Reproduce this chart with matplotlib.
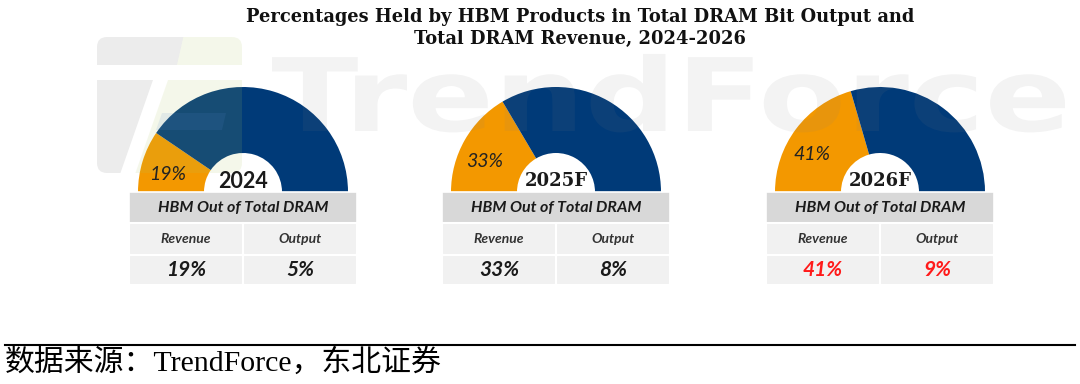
import numpy as np
import matplotlib
matplotlib.use("Agg")
import matplotlib.pyplot as plt
from matplotlib.patches import Rectangle, FancyBboxPatch, Polygon, PathPatch
from matplotlib.textpath import TextPath
from matplotlib.font_manager import FontProperties
from matplotlib.transforms import Affine2D

# ---------------- data ----------------
years = ["2024", "2025F", "2026F"]
revenue_share = [19, 33, 41]      # HBM share of DRAM revenue (%)
output_share = [5, 8, 9]          # HBM share of DRAM bit output (%)
table_header = "HBM Out of Total DRAM"
col_labels = ["Revenue", "Output"]
title_lines = ["Percentages Held by HBM Products in Total DRAM Bit Output and",
               "Total DRAM Revenue, 2024-2026"]
source_text = "数据来源：TrendForce，东北证券"
watermark = "TrendForce"

# ---------------- style / layout ----------------
W, H = 1080, 384
ORANGE = "#f39800"
NAVY = "#003a78"
HEAD_GRAY = "#d8d8d8"
CELL_GRAY = "#f1f1f1"
DARK = "#1a1a1a"
value_colors = [DARK, DARK, "#ff1a1a"]
year_fonts = [dict(family="Lato", weight="bold", size=15.5),
              dict(family="DejaVu Serif", weight="bold", size=13),
              dict(family="DejaVu Serif", weight="bold", size=13)]

centers_x = [243, 556, 880]
base_y = H - 192          # y (data, upward) of the semicircle baseline
R_OUT, R_IN = 105, 39
TBL_W = 228
row_tops = [192, 223, 255]   # pixel rows from the top
row_h = [31, 32, 30]

fig = plt.figure(figsize=(W / 100, H / 100), dpi=100)
ax = fig.add_axes([0, 0, 1, 1])

def py(p):  # pixel-from-top to data y
    return H - p

for i, yr in enumerate(years):
    cx = centers_x[i]
    rev = revenue_share[i]
    ax.pie([rev, 100 - rev, 100], colors=[ORANGE, NAVY, "none"],
           startangle=180, counterclock=False, radius=R_OUT,
           center=(cx, base_y), frame=True,
           wedgeprops=dict(width=R_OUT - R_IN, edgecolor="none", linewidth=0))
    # slice label
    theta = np.deg2rad(180 - 0.39 * rev * 1.8)
    rl = 78
    ax.text(cx + rl * np.cos(theta), base_y + rl * np.sin(theta), f"{rev}%",
            ha="center", va="center", family="Lato", style="italic",
            fontsize=14, color="#222222", zorder=12)
    # year label
    ax.text(cx, py(181), yr, ha="center", va="center", color=DARK,
            zorder=12, **year_fonts[i])

    # table
    left = cx - TBL_W / 2
    ax.add_patch(Rectangle((left, py(row_tops[0] + row_h[0])), TBL_W, row_h[0],
                           facecolor=HEAD_GRAY, edgecolor="white", lw=1.2, zorder=3))
    ax.text(cx, py(row_tops[0] + row_h[0] / 2), table_header, ha="center", va="center",
            family="Lato", weight="bold", style="italic", fontsize=11.5,
            color=DARK, zorder=4)
    for r in (1, 2):
        for c in (0, 1):
            ax.add_patch(Rectangle((left + c * TBL_W / 2, py(row_tops[r] + row_h[r])),
                                   TBL_W / 2, row_h[r], facecolor=CELL_GRAY,
                                   edgecolor="white", lw=1.5, zorder=3))
    for c, lab in enumerate(col_labels):
        ax.text(left + TBL_W / 4 * (2 * c + 1), py(row_tops[1] + row_h[1] / 2), lab,
                ha="center", va="center", family="Lato", weight="bold",
                style="italic", fontsize=10, color="#333333", zorder=4)
    vals = [revenue_share[i], output_share[i]]
    for c, v in enumerate(vals):
        ax.text(left + TBL_W / 4 * (2 * c + 1), py(row_tops[2] + row_h[2] / 2), f"{v}%",
                ha="center", va="center", family="Lato", weight="bold",
                style="italic", fontsize=15, color=value_colors[i], zorder=4)

# ---------------- watermark (faint, drawn over the chart) ----------------
tp = TextPath((0, 0), watermark, size=100,
              prop=FontProperties(family="DejaVu Sans", weight="bold"))
ext = tp.get_extents()
wx0, wx1, wtop, wbot = 272, 1065, 57, 131
sx = (wx1 - wx0) / ext.width
sy = (wbot - wtop) / 73.0
tr = Affine2D().translate(-ext.x0, 0).scale(sx, sy).translate(wx0, py(wbot))
ax.add_patch(PathPatch(tr.transform_path(tp), facecolor="#808080",
                       edgecolor="none", alpha=0.095, zorder=10))

# logo
clip = FancyBboxPatch((97, py(173)), 145, 136, boxstyle="round,pad=0,rounding_size=10",
                      facecolor="none", edgecolor="none", transform=ax.transData)
ax.add_patch(clip)
G_GRAY = dict(facecolor="#808080", edgecolor="none", alpha=0.15, zorder=10)
G_GREEN = dict(facecolor="#b0c860", edgecolor="none", alpha=0.13, zorder=10)
logo_parts = [
    ([(90, 30), (185, 30), (177, 65), (90, 65)], G_GRAY),
    ([(185, 30), (250, 30), (250, 65), (177, 65)], G_GREEN),
    ([(90, 80), (153, 80), (118, 180), (90, 180)], G_GRAY),
    ([(168, 80), (250, 80), (250, 180), (133, 180)], G_GREEN),
    ([(162, 113), (226, 113), (222, 130), (156, 130)],
     dict(facecolor="#5a8ad0", edgecolor="none", alpha=0.12, zorder=10)),
]
for pts, kw in logo_parts:
    poly = Polygon([(x, py(y)) for x, y in pts], closed=True, **kw)
    ax.add_patch(poly)
    poly.set_clip_path(clip)

# title
for k, line in enumerate(title_lines):
    ax.text(580, py(17 + 22 * k), line, ha="center", va="center",
            family="DejaVu Serif", weight="bold", fontsize=12.9, color="#111111", zorder=11)

# source line
ax.plot([5, 1075], [py(345), py(345)], color="black", lw=1.5, zorder=6)
ax.text(5, py(363), source_text, ha="left", va="center",
        family=["Liberation Serif", "Noto Sans CJK SC"], fontsize=21.5, color="black")

ax.set_xlim(0, W)
ax.set_ylim(0, H)
ax.set_aspect("equal")
ax.axis("off")
fig.savefig("out.png", dpi=100, facecolor="white")
